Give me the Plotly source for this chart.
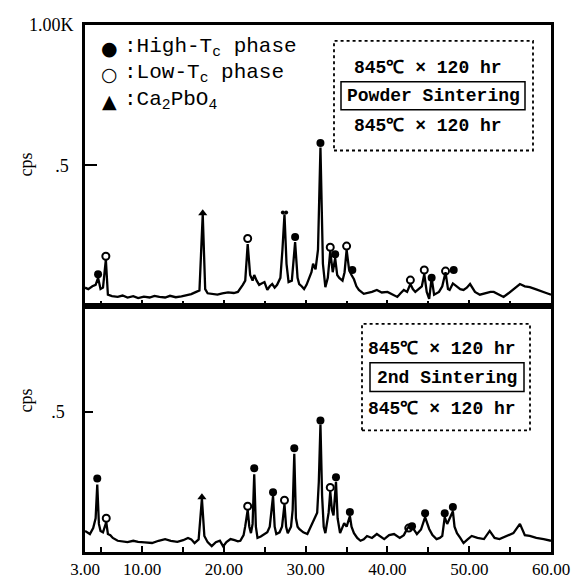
import plotly.graph_objects as go
from plotly.subplots import make_subplots

# ---------------- data ----------------
two_theta_top = [3.0, 3.4, 3.9, 4.3, 4.6, 4.9, 5.2, 5.55, 5.8, 6.3, 7.0, 7.6, 8.2, 8.9, 9.5, 10.2, 10.9,
                 11.5, 12.1, 12.8, 13.4, 14.1, 14.8, 15.4, 16.0, 16.6, 17.0, 17.4, 17.7, 18.0, 18.6, 19.2,
                 19.8, 20.5, 21.2, 21.7, 22.3, 22.6, 22.9, 23.2, 23.5, 23.7, 24.0, 24.3, 24.6, 24.95, 25.3,
                 25.6, 25.9, 26.2, 26.5, 26.9, 27.15, 27.4, 27.65, 27.9, 28.3, 28.7, 29.0, 29.2, 29.5, 29.8,
                 30.1, 30.4, 30.7, 30.9, 31.2, 31.5, 31.8, 32.1, 32.4, 32.7, 33.0, 33.3, 33.6, 33.85, 34.1,
                 34.5, 34.75, 35.0, 35.3, 35.6, 35.9, 36.2, 36.5, 37.1, 37.5, 38.1, 38.7, 39.3, 40.0, 40.6,
                 41.2, 41.6, 42.0, 42.4, 42.8, 43.1, 43.4, 43.8, 44.2, 44.5, 44.8, 45.1, 45.4, 45.7, 46.0,
                 46.3, 46.7, 47.1, 47.4, 47.6, 48.0, 48.5, 48.9, 49.3, 49.7, 50.1, 50.7, 51.3, 52.0, 52.6,
                 53.0, 53.6, 54.2, 54.8, 55.5, 56.2, 56.8, 57.4, 58.1, 58.9, 59.5, 60.0]
cps_top = [0.065, 0.06, 0.07, 0.075, 0.10, 0.06, 0.065, 0.165, 0.04, 0.035, 0.032, 0.037, 0.03, 0.035,
           0.028, 0.033, 0.03, 0.036, 0.032, 0.03, 0.036, 0.031, 0.034, 0.038, 0.042, 0.05, 0.055, 0.326,
           0.06, 0.045, 0.042, 0.04, 0.045, 0.048, 0.046, 0.05, 0.075, 0.09, 0.22, 0.11, 0.09, 0.11, 0.09,
           0.075, 0.08, 0.085, 0.057, 0.07, 0.078, 0.065, 0.075, 0.10, 0.20, 0.326, 0.15, 0.085, 0.09,
           0.227, 0.10, 0.078, 0.07, 0.06, 0.075, 0.096, 0.12, 0.15, 0.13, 0.2, 0.564, 0.15, 0.067, 0.10,
           0.195, 0.12, 0.17, 0.11, 0.10, 0.09, 0.12, 0.20, 0.13, 0.11, 0.095, 0.07, 0.057, 0.043, 0.045,
           0.05, 0.057, 0.048, 0.05, 0.04, 0.032, 0.045, 0.057, 0.05, 0.078, 0.06, 0.05, 0.06, 0.07, 0.113,
           0.05, 0.025, 0.10, 0.04, 0.045, 0.05, 0.07, 0.12, 0.06, 0.057, 0.08, 0.067, 0.06, 0.057, 0.065,
           0.078, 0.05, 0.04, 0.045, 0.05, 0.05, 0.04, 0.032, 0.045, 0.06, 0.078, 0.07, 0.067, 0.06, 0.05,
           0.045, 0.04]

two_theta_bot = [3.0, 3.3, 3.6, 4.0, 4.3, 4.5, 4.7, 4.9, 5.2, 5.6, 5.8, 6.1, 6.4, 7.0, 7.6, 8.2, 8.9, 9.5,
                 10.3, 11.2, 12.0, 12.8, 13.5, 14.3, 15.0, 15.6, 16.0, 16.4, 16.9, 17.3, 17.6, 18.0, 18.5,
                 19.0, 19.5, 19.9, 20.3, 20.8, 21.3, 21.7, 22.0, 22.4, 22.6, 22.9, 23.1, 23.3, 23.5, 23.7,
                 23.9, 24.1, 24.5, 24.95, 25.3, 25.6, 26.0, 26.2, 26.4, 26.8, 27.1, 27.4, 27.6, 27.8, 28.2,
                 28.4, 28.6, 28.8, 29.0, 29.2, 29.7, 30.2, 30.6, 31.0, 31.4, 31.6, 31.8, 32.0, 32.2, 32.4,
                 32.8, 33.0, 33.2, 33.4, 33.7, 33.9, 34.2, 34.7, 35.0, 35.4, 35.6, 35.9, 36.3, 36.7, 37.1,
                 37.5, 38.1, 38.7, 39.1, 39.6, 40.2, 40.8, 41.5, 42.0, 42.4, 42.7, 43.0, 43.3, 43.6, 44.1,
                 44.6, 45.1, 45.5, 46.0, 46.4, 46.7, 47.0, 47.3, 47.6, 48.0, 48.2, 48.5, 48.9, 49.3, 49.8,
                 50.3, 51.0, 51.8, 52.5, 53.1, 53.7, 54.5, 55.4, 56.2, 56.8, 57.4, 58.2, 59.1, 60.0]
cps_bot = [0.075, 0.07, 0.064, 0.085, 0.12, 0.24, 0.10, 0.075, 0.07, 0.106, 0.064, 0.06, 0.05, 0.04,
           0.038, 0.035, 0.04, 0.036, 0.034, 0.032, 0.04, 0.046, 0.04, 0.036, 0.042, 0.05, 0.045, 0.032,
           0.045, 0.19, 0.057, 0.035, 0.021, 0.035, 0.04, 0.02, 0.035, 0.046, 0.042, 0.038, 0.04, 0.06,
           0.092, 0.15, 0.09, 0.067, 0.10, 0.277, 0.09, 0.05, 0.055, 0.064, 0.07, 0.09, 0.20, 0.09, 0.064,
           0.07, 0.09, 0.17, 0.09, 0.067, 0.09, 0.15, 0.35, 0.12, 0.09, 0.082, 0.07, 0.064, 0.09, 0.117,
           0.14, 0.25, 0.454, 0.20, 0.09, 0.067, 0.14, 0.216, 0.15, 0.13, 0.25, 0.12, 0.067, 0.103, 0.09,
           0.128, 0.09, 0.067, 0.05, 0.04, 0.045, 0.057, 0.05, 0.064, 0.055, 0.046, 0.06, 0.064, 0.05, 0.06,
           0.082, 0.095, 0.09, 0.075, 0.064, 0.08, 0.124, 0.082, 0.06, 0.046, 0.05, 0.057, 0.124, 0.10,
           0.12, 0.145, 0.09, 0.067, 0.05, 0.032, 0.045, 0.057, 0.05, 0.046, 0.075, 0.05, 0.046, 0.055,
           0.067, 0.10, 0.06, 0.057, 0.05, 0.046, 0.04]

# phase markers (2-theta, cps of the marker)
top_high_x = [4.6, 28.7, 31.8, 33.6, 35.7, 45.4, 48.1]
top_high_y = [0.113, 0.245, 0.58, 0.184, 0.128, 0.10, 0.128]
top_pair_x = [27.2, 27.6]
top_pair_y = [0.333, 0.333]
top_low_x = [5.55, 22.9, 33.0, 35.0, 42.8, 44.5, 47.1]
top_low_y = [0.177, 0.24, 0.209, 0.213, 0.092, 0.128, 0.124]
top_tri_x = [17.4]
top_tri_y = [0.33]

bot_high_x = [4.5, 23.7, 26.0, 28.6, 31.8, 33.7, 35.4, 43.0, 44.6, 47.0, 48.0]
bot_high_y = [0.262, 0.298, 0.213, 0.369, 0.468, 0.266, 0.142, 0.092, 0.138, 0.138, 0.16]
bot_low_x = [5.6, 22.9, 27.4, 33.0, 42.6]
bot_low_y = [0.12, 0.163, 0.184, 0.23, 0.085]
bot_tri_x = [17.3]
bot_tri_y = [0.195]

x_tick_vals = [3, 10, 20, 30, 40, 50, 60]
x_tick_text = ["3.00", "10.00", "20.00", "30.00", "40.00", "50.00", "60.00"]

legend_symbols = ["●", "○", "▲"]
legend_texts = [":High-T<sub>c</sub> phase", ":Low-T<sub>c</sub> phase", ":Ca<sub>2</sub>PbO<sub>4</sub>"]
condition = "845℃ × 120 hr"
top_process = "Powder Sintering"
bot_process = "2nd Sintering"

# ---------------- figure ----------------
W, H = 579, 583
L, R, T, B = 77, 36, 17, 37
pw, ph = W - L - R, H - T - B


def px(x):
    return (x - L) / pw


def py(y):
    return (H - B - y) / ph


fig = make_subplots(rows=2, cols=1, shared_xaxes=True, vertical_spacing=0,
                    row_heights=[282, 247])

line_style = dict(color="black", width=2.3)
fig.add_trace(go.Scatter(x=two_theta_top, y=cps_top, mode="lines", line=line_style,
                         showlegend=False), row=1, col=1)
fig.add_trace(go.Scatter(x=two_theta_bot, y=cps_bot, mode="lines", line=line_style,
                         showlegend=False), row=2, col=1)

filled = dict(symbol="circle", size=8, color="black")
openc = dict(symbol="circle-open", size=7, color="black", line=dict(width=2, color="black"))
tri = dict(symbol="triangle-up", size=8, color="black")

for r, (hx, hy, lx, ly, tx, ty) in enumerate([
        (top_high_x, top_high_y, top_low_x, top_low_y, top_tri_x, top_tri_y),
        (bot_high_x, bot_high_y, bot_low_x, bot_low_y, bot_tri_x, bot_tri_y)], start=1):
    fig.add_trace(go.Scatter(x=hx, y=hy, mode="markers", marker=filled, showlegend=False), row=r, col=1)
    fig.add_trace(go.Scatter(x=lx, y=ly, mode="markers", marker=openc, showlegend=False), row=r, col=1)
    fig.add_trace(go.Scatter(x=tx, y=ty, mode="markers", marker=tri, showlegend=False), row=r, col=1)

fig.add_trace(go.Scatter(x=top_pair_x, y=top_pair_y, mode="markers",
                         marker=dict(symbol="circle", size=4, color="black"), showlegend=False), row=1, col=1)

serif = "Liberation Serif"
axis_common = dict(showline=True, linecolor="black", linewidth=2.5, mirror=True,
                   showgrid=False, zeroline=False)

for r in (1, 2):
    fig.update_xaxes(range=[3, 60], tickvals=x_tick_vals, ticktext=x_tick_text,
                     ticks="inside", ticklen=6, tickwidth=1.5, tickcolor="black",
                     minor=dict(dtick=5, tick0=0, ticks="inside", ticklen=5, tickwidth=1.5,
                                tickcolor="black"),
                     tickfont=dict(family=serif, size=17, color="black"),
                     **axis_common, row=r, col=1)

fig.update_xaxes(showticklabels=False, row=1, col=1)

fig.update_yaxes(range=[0, 1.0], tickvals=[0.5], ticktext=[".5"], ticks="inside", ticklen=12,
                 tickwidth=2, tickcolor="black", ticklabelstandoff=10,
                 tickfont=dict(family=serif, size=18, color="black"), **axis_common, row=1, col=1)
fig.update_yaxes(range=[0, 247 / 282], tickvals=[0.5], ticktext=[".5"], ticks="inside", ticklen=8,
                 tickwidth=2, tickcolor="black", ticklabelstandoff=14,
                 tickfont=dict(family=serif, size=18, color="black"), **axis_common, row=2, col=1)

ann = []
# y-axis extra labels
ann.append(dict(x=px(68), y=py(17), xref="paper", yref="paper", text="1.00K", showarrow=False,
                xanchor="right", yanchor="middle", font=dict(family=serif, size=18, color="black")))
for yc in (157, 394):
    ann.append(dict(x=px(18), y=py(yc), xref="paper", yref="paper", text="cps", showarrow=False,
                    textangle=-90, xanchor="center", yanchor="middle",
                    font=dict(family=serif, size=18, color="black")))

# phase legend
leg_font = dict(family="Liberation Mono", size=21, color="black")
sym_font = dict(family="DejaVu Sans", size=19, color="black")
for sym, txt, yc in zip(legend_symbols, legend_texts, [40, 66, 93]):
    ann.append(dict(x=px(101), y=py(yc), xref="paper", yref="paper", text=sym, showarrow=False,
                    xanchor="center", yanchor="middle", font=sym_font))
    ann.append(dict(x=px(114), y=py(yc), xref="paper", yref="paper", text=txt, showarrow=False,
                    xanchor="left", yanchor="middle", font=leg_font))

box_font = dict(family="Liberation Mono", size=18, color="black", weight="bold")
for txt, xc, yc in [(condition, 420, 60), (top_process, 425, 88), (condition, 420, 118),
                    (condition, 434, 342), (bot_process, 439, 371), (condition, 434, 402)]:
    ann.append(dict(x=px(xc), y=py(yc), xref="paper", yref="paper", text=txt, showarrow=False,
                    xanchor="center", yanchor="middle", font=box_font))

shapes = []
for (x0, y0, x1, y1, dash, w) in [(326, 33, 525, 143, "dot", 1.8), (333, 74, 517, 102, "solid", 1.5),
                                  (354, 317, 522, 424, "dot", 1.8), (362, 356, 516, 385, "solid", 1.5)]:
    shapes.append(dict(type="rect", xref="paper", yref="paper", x0=px(x0), x1=px(x1),
                       y0=py(y1), y1=py(y0), line=dict(color="black", width=w, dash=dash)))

fig.update_layout(width=W, height=H, margin=dict(l=L, r=R, t=T, b=B),
                  paper_bgcolor="white", plot_bgcolor="white",
                  annotations=list(fig.layout.annotations) + ann, shapes=shapes,
                  showlegend=False)

fig.write_html("out.html")
